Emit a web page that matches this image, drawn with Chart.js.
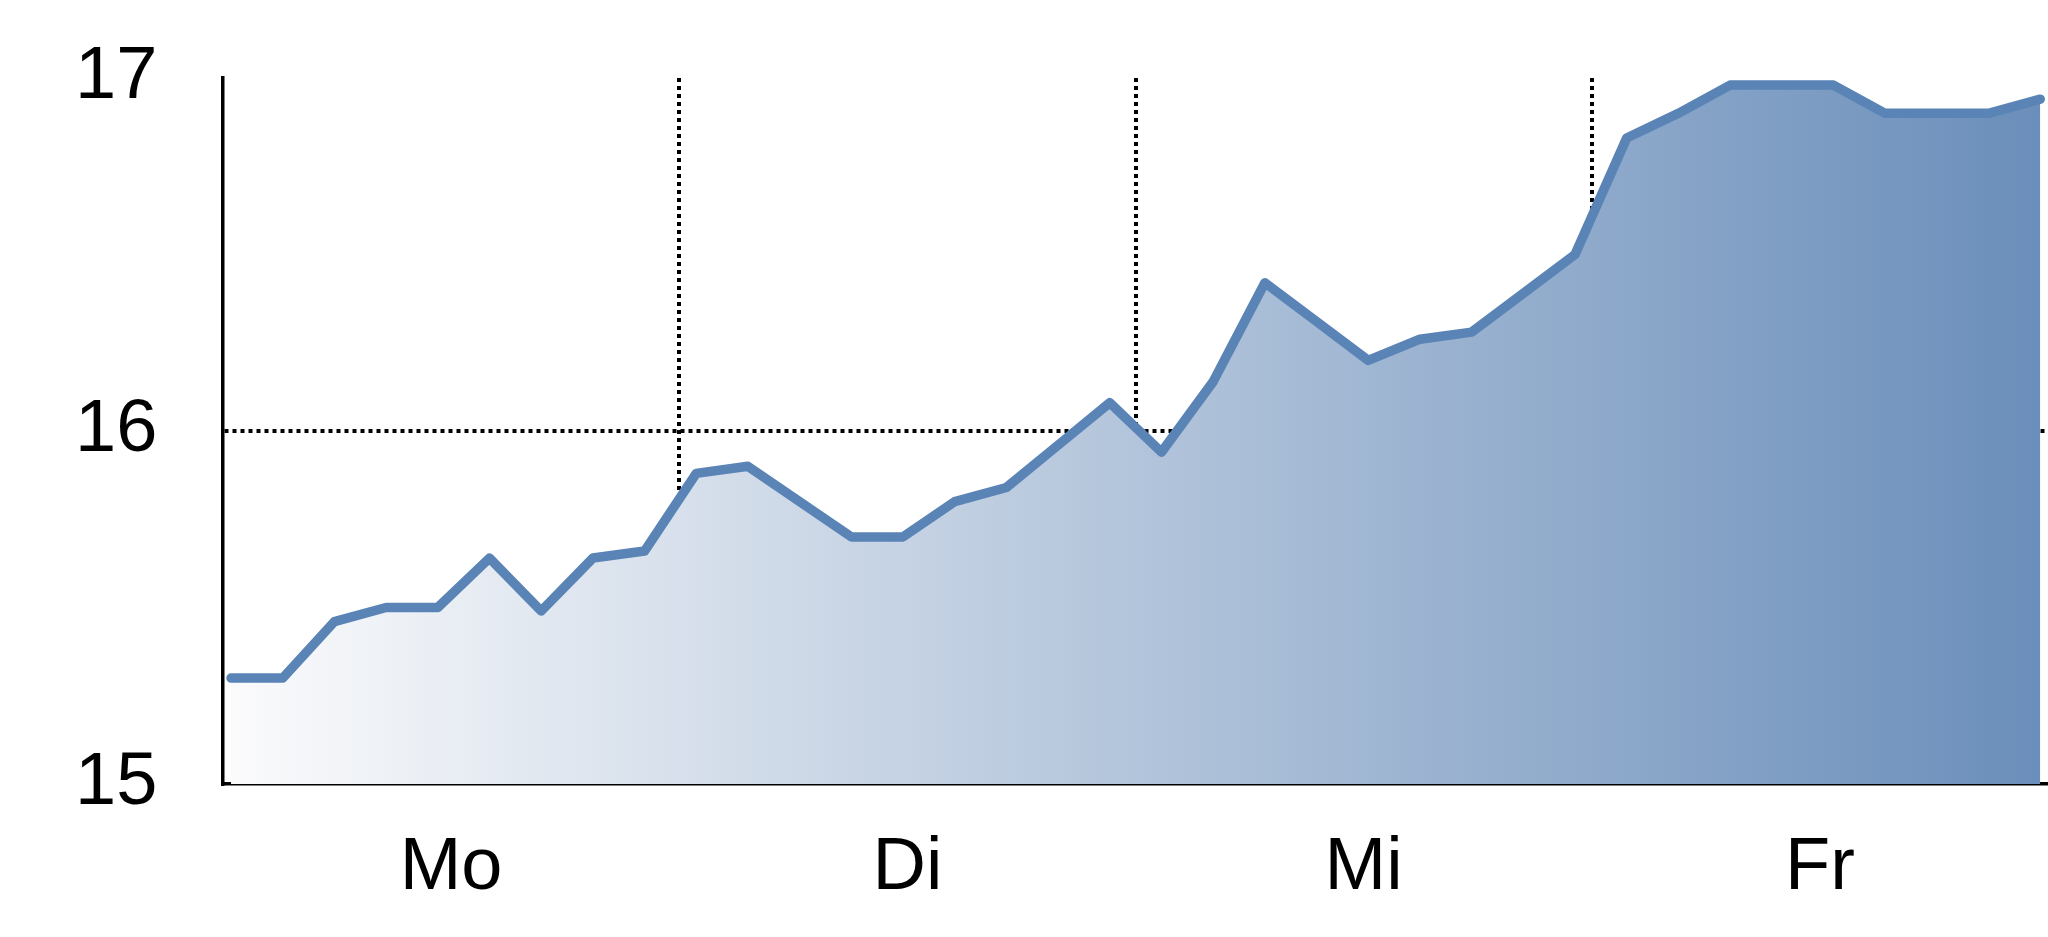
<!DOCTYPE html>
<html>
<head>
<meta charset="utf-8">
<script src="https://cdn.jsdelivr.net/npm/chart.js@4"></script>
<style>
  html, body { margin: 0; padding: 0; background: #ffffff; }
  #wrap { width: 2048px; height: 937px; position: relative; }
</style>
</head>
<body>
<div id="wrap"><canvas id="c"></canvas></div>
<script>
// ---- data ----
const dayLabels = ['Mo', 'Di', 'Mi', 'Fr'];
const values = [15.30, 15.30, 15.46, 15.50, 15.50, 15.64, 15.49, 15.64, 15.66,
                15.88, 15.90, 15.80, 15.70, 15.70, 15.80, 15.84, 15.96, 16.08,
                15.94, 16.14, 16.42, 16.31, 16.20, 16.26, 16.28, 16.39, 16.50,
                16.83, 16.90, 16.98, 16.98, 16.98, 16.90, 16.90, 16.90, 16.94];
const yTicks = [15, 16, 17];

const FONT = "'Liberation Sans Narrow', 'Arial Narrow', 'Liberation Sans', Arial, sans-serif";

const points = values.map((v, i) => ({ x: i, y: v }));

function fillGradient(context) {
  const chart = context.chart;
  const area = chart.chartArea;
  if (!area) return 'rgba(106,142,186,0.5)';
  const g = chart.ctx.createLinearGradient(area.left, 0, area.right, 0);
  g.addColorStop(0, '#fbfbfc');
  g.addColorStop(1, '#6a8eba');
  return g;
}

new Chart(document.getElementById('c'), {
  type: 'line',
  data: {
    datasets: [{
      data: points,
      xAxisID: 'x',
      yAxisID: 'y',
      borderColor: '#5a84b6',
      borderWidth: 9.5,
      borderCapStyle: 'round',
      borderJoinStyle: 'round',
      backgroundColor: fillGradient,
      fill: 'start',
      pointRadius: 0,
      tension: 0
    }]
  },
  options: {
    responsive: true,
    maintainAspectRatio: false,
    devicePixelRatio: 1,
    animation: false,
    layout: { padding: { top: 78, right: 0, left: 75, bottom: 0 } },
    plugins: { legend: { display: false }, tooltip: { enabled: false } },
    scales: {
      x: {
        type: 'linear',
        display: false,
        min: -0.155,
        max: 35.15
      },
      days: {
        type: 'category',
        labels: dayLabels,
        position: 'bottom',
        offset: true,
        grid: {
          offset: true,
          drawTicks: false,
          lineWidth: 4,
          color: (ctx) => (ctx.index >= 1 && ctx.index <= dayLabels.length - 1) ? '#000000' : 'rgba(0,0,0,0)'
        },
        border: { display: true, color: '#000000', width: 3.5, dash: [4, 4] },
        ticks: {
          color: '#000000',
          font: { family: FONT, size: 74 },
          padding: 40,
          maxRotation: 0,
          autoSkip: false
        },
        afterFit: (scale) => { scale.height = 153; }
      },
      y: {
        type: 'linear',
        min: yTicks[0],
        max: yTicks[yTicks.length - 1],
        afterBuildTicks: (scale) => { scale.ticks = yTicks.map(v => ({ value: v })); },
        grid: {
          drawTicks: false,
          lineWidth: 4,
          color: (ctx) => (ctx.tick && ctx.tick.value === 16) ? '#000000' : 'rgba(0,0,0,0)'
        },
        border: { display: true, color: '#000000', width: 3.5, dash: [4, 4] },
        ticks: {
          color: '#000000',
          font: { family: FONT, size: 74 },
          padding: 0,
          crossAlign: 'far'
        },
        afterFit: (scale) => { scale.width = 148; }
      }
    }
  }
});
</script>
</body>
</html>
